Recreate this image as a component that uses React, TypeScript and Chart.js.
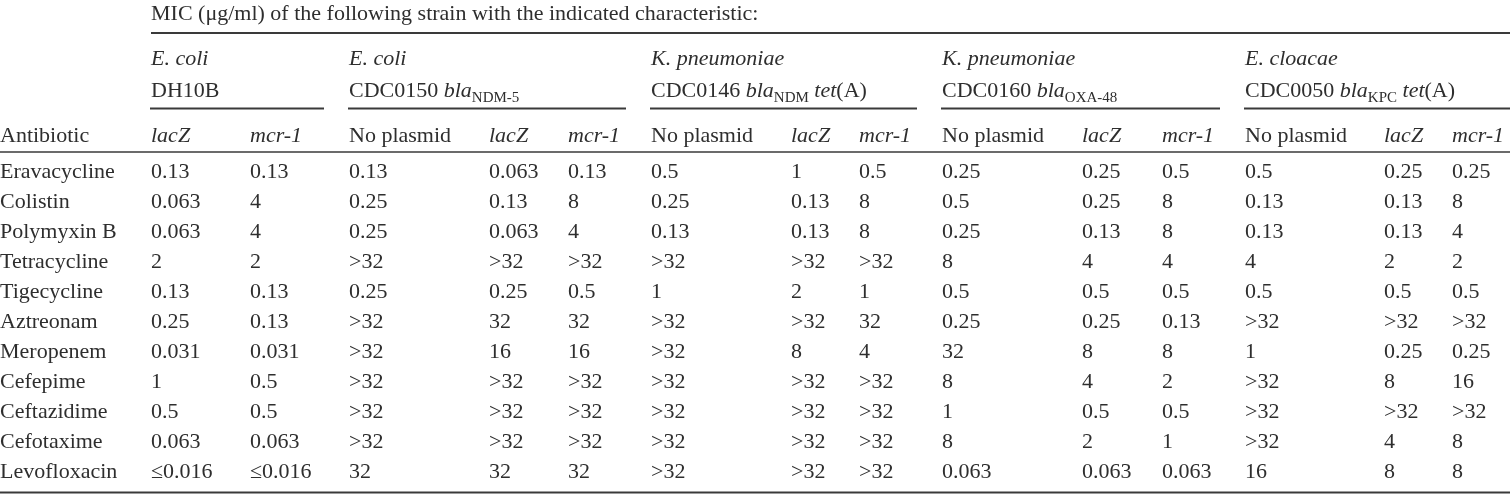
import React, { useEffect, useRef } from 'react';
import { Chart, registerables } from 'chart.js';

Chart.register(...registerables);

// ---------- data ----------
const TITLE = 'MIC (μg/ml) of the following strain with the indicated characteristic:';

const ANTIBIOTICS = [
  'Eravacycline', 'Colistin', 'Polymyxin B', 'Tetracycline', 'Tigecycline', 'Aztreonam',
  'Meropenem', 'Cefepime', 'Ceftazidime', 'Cefotaxime', 'Levofloxacin',
];

const DH10B_LACZ = ['0.13', '0.063', '0.063', '2', '0.13', '0.25', '0.031', '1', '0.5', '0.063', '≤0.016'];
const DH10B_MCR1 = ['0.13', '4', '4', '2', '0.13', '0.13', '0.031', '0.5', '0.5', '0.063', '≤0.016'];
const CDC0150_NONE = ['0.13', '0.25', '0.25', '>32', '0.25', '>32', '>32', '>32', '>32', '>32', '32'];
const CDC0150_LACZ = ['0.063', '0.13', '0.063', '>32', '0.25', '32', '16', '>32', '>32', '>32', '32'];
const CDC0150_MCR1 = ['0.13', '8', '4', '>32', '0.5', '32', '16', '>32', '>32', '>32', '32'];
const CDC0146_NONE = ['0.5', '0.25', '0.13', '>32', '1', '>32', '>32', '>32', '>32', '>32', '>32'];
const CDC0146_LACZ = ['1', '0.13', '0.13', '>32', '2', '>32', '8', '>32', '>32', '>32', '>32'];
const CDC0146_MCR1 = ['0.5', '8', '8', '>32', '1', '32', '4', '>32', '>32', '>32', '>32'];
const CDC0160_NONE = ['0.25', '0.5', '0.25', '8', '0.5', '0.25', '32', '8', '1', '8', '0.063'];
const CDC0160_LACZ = ['0.25', '0.25', '0.13', '4', '0.5', '0.25', '8', '4', '0.5', '2', '0.063'];
const CDC0160_MCR1 = ['0.5', '8', '8', '4', '0.5', '0.13', '8', '2', '0.5', '1', '0.063'];
const CDC0050_NONE = ['0.5', '0.13', '0.13', '4', '0.5', '>32', '1', '>32', '>32', '>32', '16'];
const CDC0050_LACZ = ['0.25', '0.13', '0.13', '2', '0.5', '>32', '0.25', '8', '>32', '4', '8'];
const CDC0050_MCR1 = ['0.25', '8', '4', '2', '0.5', '>32', '0.25', '16', '>32', '8', '8'];

const COLUMN_LABELS = [
  'lacZ', 'mcr-1',
  'No plasmid', 'lacZ', 'mcr-1',
  'No plasmid', 'lacZ', 'mcr-1',
  'No plasmid', 'lacZ', 'mcr-1',
  'No plasmid', 'lacZ', 'mcr-1',
];
const COLUMN_VALUES = [
  DH10B_LACZ, DH10B_MCR1,
  CDC0150_NONE, CDC0150_LACZ, CDC0150_MCR1,
  CDC0146_NONE, CDC0146_LACZ, CDC0146_MCR1,
  CDC0160_NONE, CDC0160_LACZ, CDC0160_MCR1,
  CDC0050_NONE, CDC0050_LACZ, CDC0050_MCR1,
];

const GROUP_SIZES = [2, 3, 3, 3, 3];
const SPECIES = ['E. coli', 'E. coli', 'K. pneumoniae', 'K. pneumoniae', 'E. cloacae'];
type Seg = { t: string; i?: boolean; sub?: boolean };
const STRAINS: Seg[][] = [
  [{ t: 'DH10B' }],
  [{ t: 'CDC0150 ' }, { t: 'bla', i: true }, { t: 'NDM-5', sub: true }],
  [{ t: 'CDC0146 ' }, { t: 'bla', i: true }, { t: 'NDM', sub: true }, { t: ' ' }, { t: 'tet', i: true }, { t: '(A)' }],
  [{ t: 'CDC0160 ' }, { t: 'bla', i: true }, { t: 'OXA-48', sub: true }],
  [{ t: 'CDC0050 ' }, { t: 'bla', i: true }, { t: 'KPC', sub: true }, { t: ' ' }, { t: 'tet', i: true }, { t: '(A)' }],
];

// ---------- layout / style ----------
const FONT = '"Liberation Serif", "Times New Roman", serif';
const SIZE = 22;
const SUB_SIZE = 15;
const TEXT = '#2e2e2e';
const RULE = '#3a3a3a';
const FIRST_COL_W = 151;
const COL_WIDTHS = [99, 99, 140, 79, 83, 140, 68, 83, 140, 80, 83, 139, 68, 58];
const GROUP_GAP = 25;
const Y_TITLE = 20;
const Y_TOP_RULE = 33;
const Y_SPECIES = 65;
const Y_STRAIN = 96.5;
const Y_GROUP_RULE = 108.5;
const Y_COLHEAD = 142;
const Y_HEAD_RULE = 152;
const Y_BOTTOM_RULE = 492.5;

const colLeft: number[] = [];
COL_WIDTHS.reduce((acc, w, i) => { colLeft[i] = acc; return acc + w; }, 0);
const TABLE_W = COL_WIDTHS.reduce((a, b) => a + b, 0);

function font(italic: boolean, size = SIZE) {
  return `${italic ? 'italic ' : ''}${size}px ${FONT}`;
}

function drawSegs(ctx: CanvasRenderingContext2D, segs: Seg[], x: number, y: number) {
  let cx = x;
  for (const s of segs) {
    ctx.font = s.sub ? font(false, SUB_SIZE) : font(!!s.i);
    const yy = s.sub ? y + 5 : y;
    ctx.fillText(s.t, cx, yy);
    cx += ctx.measureText(s.t).width;
  }
}

function hRule(ctx: CanvasRenderingContext2D, x0: number, x1: number, y: number, w: number) {
  ctx.beginPath();
  ctx.lineWidth = w;
  ctx.strokeStyle = RULE;
  ctx.moveTo(x0, y);
  ctx.lineTo(x1, y);
  ctx.stroke();
}

const tablePlugin = {
  id: 'tableText',
  afterDatasetsDraw(chart: any) {
    const ctx: CanvasRenderingContext2D = chart.ctx;
    const xs = chart.scales.x;
    const ys = chart.scales.y;
    const left0 = ys.left;
    const right = xs.getPixelForValue(TABLE_W);
    ctx.save();
    ctx.fillStyle = TEXT;
    ctx.textAlign = 'left';
    ctx.textBaseline = 'alphabetic';

    // title + top rule
    const tx = xs.getPixelForValue(0);
    ctx.font = font(false);
    ctx.fillText(TITLE, tx, Y_TITLE);
    hRule(ctx, tx, right, Y_TOP_RULE, 2.2);

    // group headers
    let c = 0;
    GROUP_SIZES.forEach((n, g) => {
      const x0 = xs.getPixelForValue(colLeft[c]);
      ctx.font = font(true);
      ctx.fillText(SPECIES[g], x0, Y_SPECIES);
      drawSegs(ctx, STRAINS[g], x0, Y_STRAIN);
      const next = c + n;
      const x1 = next < colLeft.length ? xs.getPixelForValue(colLeft[next]) - GROUP_GAP : right;
      hRule(ctx, x0 - 1, x1, Y_GROUP_RULE, 1.8);
      c = next;
    });

    // column headers
    ctx.font = font(false);
    ctx.fillText('Antibiotic', left0, Y_COLHEAD);
    COLUMN_LABELS.forEach((lab, i) => {
      ctx.font = font(lab !== 'No plasmid');
      ctx.fillText(lab, xs.getPixelForValue(colLeft[i]), Y_COLHEAD);
    });
    hRule(ctx, left0, right, Y_HEAD_RULE, 1.5);

    // cells
    ctx.font = font(false);
    ctx.textBaseline = 'middle';
    chart.data.datasets.forEach((ds: any, di: number) => {
      const meta = chart.getDatasetMeta(di);
      meta.data.forEach((pt: any, i: number) => {
        ctx.fillText(ds.texts[i], pt.x, pt.y);
      });
    });

    hRule(ctx, left0, right, Y_BOTTOM_RULE, 2.2);
    ctx.restore();
  },
};

export default function App() {
  const ref = useRef<HTMLCanvasElement>(null);
  useEffect(() => {
    document.body.style.margin = '0';
    document.body.style.overflow = 'hidden';
    const datasets = COLUMN_VALUES.map((vals, ci) => ({
      label: COLUMN_LABELS[ci],
      texts: vals,
      data: vals.map((_, ri) => ({ x: colLeft[ci], y: ANTIBIOTICS[ri] })),
      pointRadius: 0,
      pointHoverRadius: 0,
    }));
    const chart = new Chart(ref.current!, {
      type: 'scatter',
      data: { datasets: datasets as any },
      options: {
        animation: false,
        responsive: false,
        events: [],
        layout: { padding: { top: 172.6, bottom: 21.4, left: 0, right: 2 } },
        plugins: { legend: { display: false }, tooltip: { enabled: false }, title: { display: false } },
        scales: {
          x: { type: 'linear', min: 0, max: TABLE_W, display: false },
          y: {
            type: 'category',
            labels: ANTIBIOTICS,
            offset: false,
            grid: { display: false },
            border: { display: false },
            afterFit: (s: any) => { s.width = FIRST_COL_W; },
            ticks: {
              autoSkip: false,
              crossAlign: 'far',
              padding: 0,
              color: TEXT,
              font: { family: FONT, size: SIZE },
            },
          },
        },
      },
      plugins: [tablePlugin],
    });
    return () => chart.destroy();
  }, []);
  return <canvas ref={ref} width={1512} height={494} style={{ display: 'block' }} />;
}
